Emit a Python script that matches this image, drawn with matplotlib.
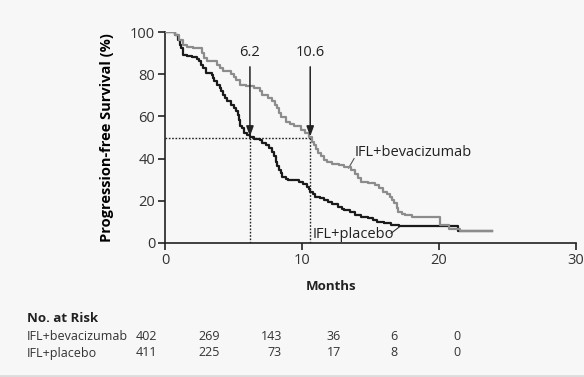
import matplotlib.pyplot as plt
import matplotlib.lines as mlines

plt.rcParams.update({'font.family': ['Open Sans', 'DejaVu Sans']})
plt.rcParams.update({'font.size': 10})

# Kaplan-Meier step data (months, % progression-free)
bev_t = [0, 0.7, 1.05, 1.3, 1.6, 2.05, 2.7, 2.85, 3.1, 3.8, 4.0, 4.2, 4.8, 5.0, 5.2,
         5.5, 5.9, 6.5, 6.9, 7.1, 7.5, 7.8, 8.0, 8.2, 8.35, 8.5, 8.8, 9.1, 9.4, 9.9,
         10.2, 10.5, 10.7, 10.9, 11.05, 11.2, 11.4, 11.6, 11.8, 12.2, 12.7, 13.1, 13.6,
         13.9, 14.1, 14.3, 14.8, 15.3, 15.6, 15.9, 16.2, 16.4, 16.6, 16.75, 16.9, 17.0,
         17.3, 17.5, 18.0, 20.1, 20.75, 21.5, 23.9]
bev_s = [100, 98.7, 96.4, 94, 93, 92.4, 90, 87.5, 86.1, 84.5, 83, 81.4, 80.3, 78.5, 77.4,
         75, 74.3, 73.5, 72, 70.1, 68.5, 67.5, 65.5, 63.8, 61.5, 59.9, 57.5, 56.5, 55.5, 53.6,
         52, 50.4, 48, 46.4, 44.5, 42.5, 41, 39.3, 38.5, 37.5, 37, 36, 34.6,
         32.5, 30.7, 29.1, 28.3, 27.5, 26, 24.3, 23, 21.9, 20.2, 18.8, 16.5, 14.8,
         13.8, 13.3, 12.5, 8.5, 6.5, 5.7, 5.7]

plc_t = [0, 0.7, 0.96, 1.1, 1.2, 1.33, 1.57, 2.0, 2.3, 2.5, 2.65, 2.8, 3.0, 3.4, 3.5, 3.6,
         3.8, 4.0, 4.1, 4.2, 4.35, 4.5, 4.8, 5.0, 5.2, 5.3, 5.4, 5.5, 5.6, 5.8, 6.0, 6.2,
         6.5, 6.9, 7.1, 7.35, 7.6, 7.8, 7.95, 8.1, 8.2, 8.3, 8.45, 8.55, 8.8, 9.0, 9.8,
         10.1, 10.4, 10.5, 10.6, 10.8, 10.97, 11.3, 11.6, 11.9, 12.2, 12.65, 12.9, 13.1,
         13.5, 13.9, 14.3, 14.8, 15.2, 15.5, 16.0, 16.5, 17.1, 21.4, 23.9]
plc_s = [100, 98.7, 96.4, 94, 92.4, 89.2, 88.5, 88, 87.2, 86.1, 84.5, 82.9, 80.6, 79.8, 78, 76.6,
         75, 73.5, 72, 70.3, 68.5, 67.2, 65.5, 64, 62.4, 60.5, 58.4, 55.5, 54.4, 52.1, 51, 50.4,
         49.5, 48.8, 47.5, 46.4, 44.8, 43.3, 41, 38.5, 36.5, 34.6, 33, 31.4, 30.5, 29.9, 29.1,
         28, 26.7, 25.5, 24.3, 23, 21.9, 21.2, 20.4, 19.6, 18.5, 17.2, 16.3, 15.6,
         14.5, 13.3, 12.5, 11.7, 10.9, 10.1, 9.3, 8.5, 8.1, 5.7, 5.7]

medians = [6.2, 10.6]
median_labels = ['6.2', '10.6']

risk_groups = ['IFL+bevacizumab', 'IFL+placebo']
risk_bev = ['402', '269', '143', '36', '6', '0']
risk_plc = ['411', '225', '73', '17', '8', '0']

bg = '#f7f7f7'
ink = '#222222'
W, H = 584, 377

fig = plt.figure(figsize=(W / 100, H / 100), dpi=100, facecolor=bg)
ax = fig.add_axes([165 / W, 1 - 243 / H, (576 - 165) / W, (243 - 32) / H])
ax.set_facecolor(bg)

ax.step(plc_t, plc_s, where='post', color='#1a1a1a', lw=1.6, zorder=3)
ax.step(bev_t, bev_s, where='post', color='#8c8c8c', lw=1.6, zorder=3)

# median lines
ax.plot([0, medians[1]], [50, 50], color=ink, lw=1.0, ls=(0, (1.2, 1.2)), zorder=2)
for m, lab in zip(medians, median_labels):
    ax.plot([m, m], [0, 50], color=ink, lw=1.0, ls=(0, (1.2, 1.2)), zorder=2)
    ax.annotate('', xy=(m, 50.5), xytext=(m, 83.5),
                arrowprops=dict(arrowstyle='-|>,head_length=0.6,head_width=0.22',
                                color=ink, lw=1.1, shrinkA=0, shrinkB=0))
    ax.text(m, 90.5, lab, ha='center', va='center', fontsize=10.5, color=ink)

# curve labels with leader lines
ax.text(13.85, 42.7, 'IFL+bevacizumab', ha='left', va='center', fontsize=10.5, color=ink)
ax.plot([13.4, 13.8], [35.5, 40.0], color='#555555', lw=0.8)
ax.text(10.75, 3.9, 'IFL+placebo', ha='left', va='center', fontsize=10.5, color=ink)
ax.plot([16.5, 17.1], [4.6, 7.6], color='#333333', lw=0.8)

ax.set_xlim(0, 30)
ax.set_ylim(0, 100)
ax.set_xticks([0, 10, 20, 30])
ax.set_yticks([0, 20, 40, 60, 80, 100])
for side in ['top', 'right']:
    ax.spines[side].set_visible(False)
for side in ['left', 'bottom']:
    ax.spines[side].set_linewidth(1.2)
    ax.spines[side].set_color(ink)
ax.tick_params(direction='out', length=5, width=1.2, color=ink,
               labelcolor='#333333', labelsize=10.5, pad=2)
ax.set_ylabel('Progression-free Survival (%)', fontweight='bold', fontsize=10.5,
              va='center')
ax.yaxis.set_label_coords(-(165 - 107) / (576 - 165), 0.5)

fig.text(331 / W, 1 - 287 / H, 'Months', ha='center', va='center',
         fontweight='bold', fontsize=9.5, color=ink)

# number at risk table
fig.text(27 / W, 1 - 318 / H, 'No. at Risk', ha='left', va='center',
         fontweight='bold', fontsize=9.5, color=ink)
col_x = [157, 220, 282, 341, 398, 460]
for row_y, name, vals in zip([337, 353], risk_groups, [risk_bev, risk_plc]):
    fig.text(27 / W, 1 - row_y / H, name, ha='left', va='center', fontsize=9, color='#333333')
    for cx, v in zip(col_x, vals):
        fig.text(cx / W, 1 - row_y / H, v, ha='right', va='center', fontsize=9, color='#333333')

fig.add_artist(mlines.Line2D([0, 1], [1 / H, 1 / H], transform=fig.transFigure,
                             color='#dcdcdc', lw=2))

fig.savefig('out.png', dpi=100, facecolor=bg)
